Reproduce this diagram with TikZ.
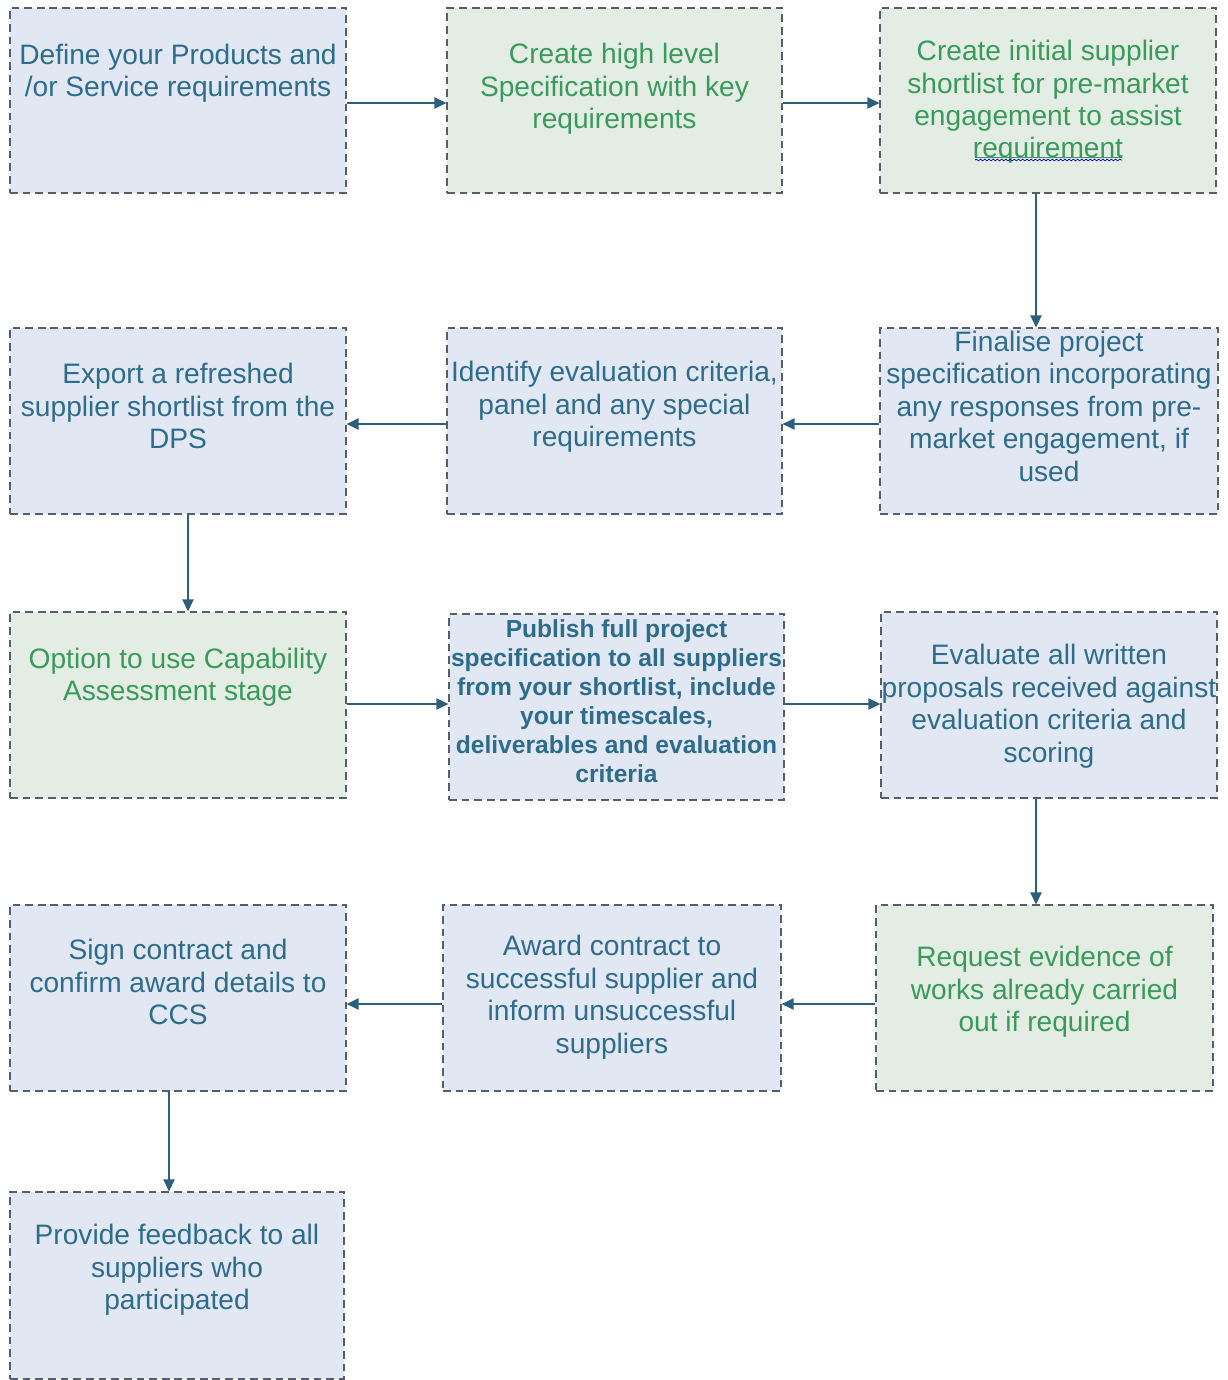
\documentclass[tikz,border=0pt]{standalone}
\usepackage{fontspec}
\setmainfont{Liberation Sans}
\usetikzlibrary{arrows.meta,calc,decorations.pathmorphing}
\definecolor{bfill}{RGB}{225,231,243}
\definecolor{gfill}{RGB}{227,237,228}
\definecolor{btext}{RGB}{46,108,140}
\definecolor{gtext}{RGB}{58,154,92}
\definecolor{edge}{RGB}{85,95,105}
\definecolor{arr}{RGB}{46,94,126}
\begin{document}
\begin{tikzpicture}[x=0.025cm,y=-0.025cm,
  box/.style={draw=edge,line width=0.8pt,dash pattern=on 5.5pt off 3.5pt,minimum width=8.4cm,minimum height=4.625cm,inner sep=0pt},
  bbox/.style={box,fill=bfill},
  gbox/.style={box,fill=gfill},
  bt/.style={align=center,text=btext,font=\fontsize{20}{23.1}\selectfont,inner sep=0pt},
  gt/.style={align=center,text=gtext,font=\fontsize{20}{23.1}\selectfont,inner sep=0pt},
  con/.style={draw=arr,line width=0.9pt,-{Triangle[length=8.5pt,width=8pt]}}]
\useasboundingbox (0,0) rectangle (1228,1380);
\fill[white] (0,0) rectangle (1228,1380);
% boxes
\node[bbox] (A) at (178,100.5) {};
\node[gbox,minimum width=8.375cm] (B) at (614.5,100.5) {};
\node[gbox] (C) at (1048,100.5) {};
\node[bbox,minimum height=4.65cm] (D) at (178,421) {};
\node[bbox,minimum width=8.375cm,minimum height=4.65cm] (E) at (614.5,421) {};
\node[bbox,minimum width=8.45cm,minimum height=4.65cm] (F) at (1049,421) {};
\node[gbox,minimum height=4.65cm] (G) at (178,705) {};
\node[bbox,minimum width=8.375cm,minimum height=4.65cm] (H) at (616.5,707) {};
\node[bbox,minimum height=4.65cm] (I) at (1049,705) {};
\node[bbox,minimum height=4.65cm] (J) at (178,998) {};
\node[bbox,minimum width=8.45cm,minimum height=4.65cm] (K) at (612,998) {};
\node[gbox,minimum width=8.425cm,minimum height=4.65cm] (L) at (1044.5,998) {};
\node[bbox,minimum width=8.35cm,minimum height=4.675cm] (M) at (177,1285.5) {};
% texts
\node[bt] (tA) at (178,73) {Define your Products and\\/or Service requirements};
\node[gt] (tB) at (614.5,89) {Create high level\\Specification with key\\requirements};
\node[gt] (tC) at (1048,102) {Create initial supplier\\shortlist for pre-market\\engagement to assist\\requirement};
\node[bt] (tD) at (178,406) {Export a refreshed\\supplier shortlist from the\\DPS};
\node[bt] (tE) at (614.5,407) {Identify evaluation criteria,\\panel and any special\\requirements};
\node[bt] (tF) at (1049,406) {Finalise project\\specification incorporating\\any responses from pre-\\market engagement, if\\used};
\node[gt] (tG) at (178,677) {Option to use Capability\\Assessment stage};
\node[bt,font=\fontsize{17.5}{20.6}\selectfont\bfseries] (tH) at (616.5,701) {Publish full project\\specification to all suppliers\\from your shortlist, include\\your timescales,\\deliverables and evaluation\\criteria};
\node[bt] (tI) at (1049,706) {Evaluate all written\\proposals received against\\evaluation criteria and\\scoring};
\node[bt] (tJ) at (178,982) {Sign contract and\\confirm award details to\\CCS};
\node[bt] (tK) at (612,997) {Award contract to\\successful supplier and\\inform unsuccessful\\suppliers};
\node[gt] (tL) at (1044.5,992) {Request evidence of\\works already carried\\out if required};
\node[bt] (tM) at (177,1270) {Provide feedback to all\\suppliers who\\participated};
% spell-check underline
\draw[gtext,line width=0.6pt] (975,157) -- (1122,157);
\draw[blue!70!black,line width=0.5pt,decorate,decoration={snake,amplitude=0.6pt,segment length=3pt}] (975,160) -- (1122,160);
% connectors
\coordinate (xc) at (1036,0);
\coordinate (xd) at (188,0);
\coordinate (xj) at (169,0);
\draw[con] ($(A.east)+(0,2.5)$) -- ($(B.west)+(0,2.5)$);
\draw[con] ($(B.east)+(0,2.5)$) -- ($(C.west)+(0,2.5)$);
\draw[con] (C.south -| xc) -- (F.north -| xc);
\draw[con] ($(F.west)+(0,3)$) -- ($(E.east)+(0,3)$);
\draw[con] ($(E.west)+(0,3)$) -- ($(D.east)+(0,3)$);
\draw[con] (D.south -| xd) -- (G.north -| xd);
\draw[con] ($(G.east)+(0,-1)$) -- (H.west |- {$(G.east)+(0,-1)$});
\draw[con] (H.east |- {$(G.east)+(0,-1)$}) -- (I.west |- {$(G.east)+(0,-1)$});
\draw[con] (I.south -| xc) -- (L.north -| xc);
\draw[con] ($(L.west)+(0,6)$) -- ($(K.east)+(0,6)$);
\draw[con] ($(K.west)+(0,6)$) -- ($(J.east)+(0,6)$);
\draw[con] (J.south -| xj) -- (M.north -| xj);
\end{tikzpicture}
\end{document}
